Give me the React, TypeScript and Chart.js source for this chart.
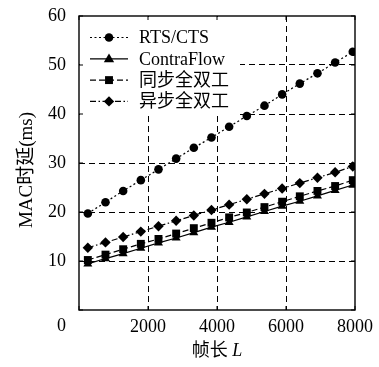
import React, { useEffect, useRef } from "react";
import { Chart, registerables } from "chart.js";

Chart.register(...registerables);

const frameLengths = [256, 768, 1280, 1792, 2304, 2816, 3328, 3840, 4352, 4864, 5376, 5888, 6400, 6912, 7424, 7936];
const rtsCts = [19.7, 22.0, 24.3, 26.5, 28.7, 30.9, 33.1, 35.2, 37.4, 39.6, 41.7, 44.0, 46.2, 48.3, 50.5, 52.7];
const contraFlow = [9.4, 10.5, 11.5, 12.6, 13.7, 14.7, 15.8, 16.9, 17.9, 19.0, 20.1, 21.2, 22.2, 23.3, 24.4, 25.5];
const syncFD = [10.2, 11.3, 12.4, 13.5, 14.5, 15.6, 16.7, 17.8, 18.9, 19.9, 21.0, 22.1, 23.2, 24.3, 25.3, 26.5];
const asyncFD = [12.7, 13.8, 14.9, 16.0, 17.1, 18.2, 19.3, 20.4, 21.5, 22.6, 23.7, 24.8, 25.9, 27.0, 28.1, 29.3];
const seriesNames = ["RTS/CTS", "ContraFlow", "同步全双工", "异步全双工"];
const xTicks = [0, 2000, 4000, 6000, 8000];
const yTicks = [0, 10, 20, 30, 40, 50, 60];
const xTitle = "帧长 ";
const xTitleItalic = "L";
const yTitle = "MAC时延(ms)";

const SERIF = "'Liberation Serif', 'Noto Sans CJK SC', serif";

function drawMarker(ctx: CanvasRenderingContext2D, style: string, x: number, y: number, r: number) {
  ctx.beginPath();
  if (style === "circle") {
    ctx.arc(x, y, r, 0, Math.PI * 2);
  } else if (style === "triangle") {
    ctx.moveTo(x, y - r);
    ctx.lineTo(x + r * 0.866 * 1.15, y + r * 0.65);
    ctx.lineTo(x - r * 0.866 * 1.15, y + r * 0.65);
    ctx.closePath();
  } else if (style === "rect") {
    const s = r * Math.SQRT1_2;
    ctx.rect(x - s, y - s, 2 * s, 2 * s);
  } else {
    ctx.moveTo(x, y - r);
    ctx.lineTo(x + r, y);
    ctx.lineTo(x, y + r);
    ctx.lineTo(x - r, y);
    ctx.closePath();
  }
  ctx.fill();
}

export default function App() {
  const ref = useRef<HTMLCanvasElement>(null);
  useEffect(() => {
    const styles = ["circle", "triangle", "rect", "rectRot"];
    const radii = [4.3, 5.2, 5.6, 5.2];
    const dashes = [[2, 2.5], [], [6, 3], [6, 2.5, 1.5, 2.5]];
    const values = [rtsCts, contraFlow, syncFD, asyncFD];

    const customPlugin = {
      id: "custom",
      afterDatasetsDraw(chart: any) {
        const ctx = chart.ctx as CanvasRenderingContext2D;
        const a = chart.chartArea;
        const xs = chart.scales.x;
        const ys = chart.scales.y;
        ctx.save();
        // legend background
        ctx.fillStyle = "#fff";
        ctx.fillRect(a.left + 1, a.top + 1, 160, 99);
        for (let i = 0; i < 4; i++) {
          const yy = a.top + 21.5 + i * 21.3;
          ctx.strokeStyle = "#000";
          ctx.lineWidth = 1.2;
          ctx.setLineDash(dashes[i]);
          ctx.beginPath();
          ctx.moveTo(a.left + 11, yy);
          ctx.lineTo(a.left + 49, yy);
          ctx.stroke();
          ctx.setLineDash([]);
          ctx.fillStyle = "#000";
          drawMarker(ctx, styles[i], a.left + 30, yy, radii[i]);
          ctx.font = "18px " + SERIF;
          ctx.textAlign = "left";
          ctx.textBaseline = "middle";
          ctx.fillText(seriesNames[i], a.left + 60, yy + 1);
        }
        // inward ticks
        ctx.strokeStyle = "#000";
        ctx.lineWidth = 1;
        ctx.setLineDash([]);
        for (const v of xTicks) {
          const px = xs.getPixelForValue(v);
          ctx.beginPath();
          ctx.moveTo(px, a.bottom);
          ctx.lineTo(px, a.bottom - 4);
          ctx.moveTo(px, a.top);
          ctx.lineTo(px, a.top + 4);
          ctx.stroke();
        }
        for (const v of yTicks) {
          const py = ys.getPixelForValue(v);
          ctx.beginPath();
          ctx.moveTo(a.left, py);
          ctx.lineTo(a.left + 4, py);
          ctx.moveTo(a.right, py);
          ctx.lineTo(a.right - 4, py);
          ctx.stroke();
        }
        // frame
        ctx.lineWidth = 1.4;
        ctx.strokeRect(a.left, a.top, a.right - a.left, a.bottom - a.top);
        // origin label
        ctx.fillStyle = "#000";
        ctx.font = "18px " + SERIF;
        ctx.textAlign = "right";
        ctx.textBaseline = "middle";
        ctx.fillText(String(xTicks[0]), a.left - 13, a.bottom + 16);
        // x title
        ctx.textAlign = "left";
        const w1 = ctx.measureText(xTitle).width;
        ctx.font = "italic 18px " + SERIF;
        const w2 = ctx.measureText(xTitleItalic).width;
        const cx = (a.left + a.right) / 2;
        const startX = cx - (w1 + w2) / 2;
        ctx.font = "18px " + SERIF;
        ctx.fillText(xTitle, startX, a.bottom + 41);
        ctx.font = "italic 18px " + SERIF;
        ctx.fillText(xTitleItalic, startX + w1, a.bottom + 41);
        // y title
        ctx.font = "19px " + SERIF;
        ctx.translate(27, 170);
        ctx.rotate(-Math.PI / 2);
        ctx.textAlign = "center";
        ctx.fillText(yTitle, 0, 0);
        ctx.restore();
      },
    };

    const chart = new Chart(ref.current!, {
      type: "line",
      data: {
        datasets: values.map((vals, i) => ({
          label: seriesNames[i],
          data: frameLengths.map((x, j) => ({ x, y: vals[j] })),
          borderColor: "#000",
          backgroundColor: "#000",
          borderWidth: 1.2,
          borderDash: dashes[i],
          pointStyle: styles[i] as any,
          pointRadius: radii[i],
          pointBackgroundColor: "#000",
          pointBorderColor: "#000",
          pointBorderWidth: 0,
          tension: 0,
          fill: false,
        })),
      },
      options: {
        responsive: false,
        animation: false,
        layout: { padding: { left: 0, top: 16, right: 24, bottom: 0 } },
        plugins: { legend: { display: false }, tooltip: { enabled: false } },
        scales: {
          x: {
            type: "linear",
            min: 0,
            max: 8000,
            afterBuildTicks: (s: any) => {
              s.ticks = xTicks.map((v) => ({ value: v }));
            },
            afterFit: (s: any) => {
              s.height = 57;
              s.paddingLeft = 0;
              s.paddingRight = 0;
            },
            ticks: {
              color: "#000",
              font: { family: SERIF, size: 18 },
              padding: 6,
              maxRotation: 0,
              callback: (v: any) => (v === 0 ? "" : String(v)),
            },
            grid: {
              drawTicks: false,
              color: (c: any) => (c.tick && (c.tick.value === 0 || c.tick.value === 8000) ? "rgba(0,0,0,0)" : "#000"),
              lineWidth: 1,
            },
            border: { display: false, dash: [6, 4] },
          },
          y: {
            type: "linear",
            min: 0,
            max: 60,
            afterBuildTicks: (s: any) => {
              s.ticks = yTicks.map((v) => ({ value: v }));
            },
            afterFit: (s: any) => {
              s.width = 79;
              s.paddingTop = 0;
              s.paddingBottom = 0;
            },
            ticks: {
              color: "#000",
              font: { family: SERIF, size: 18 },
              padding: 13,
              callback: (v: any) => (v === 0 ? "" : String(v)),
            },
            grid: {
              drawTicks: false,
              color: (c: any) => (c.tick && (c.tick.value === 0 || c.tick.value === 60) ? "rgba(0,0,0,0)" : "#000"),
              lineWidth: 1,
            },
            border: { display: false, dash: [6, 4] },
          },
        },
      } as any,
      plugins: [customPlugin],
    });
    return () => chart.destroy();
  }, []);
  return (
    <div style={{ position: "fixed", left: 0, top: 0, width: 379, height: 367, background: "#fff" }}>
      <canvas ref={ref} width={379} height={367} style={{ width: 379, height: 367 }} />
    </div>
  );
}
